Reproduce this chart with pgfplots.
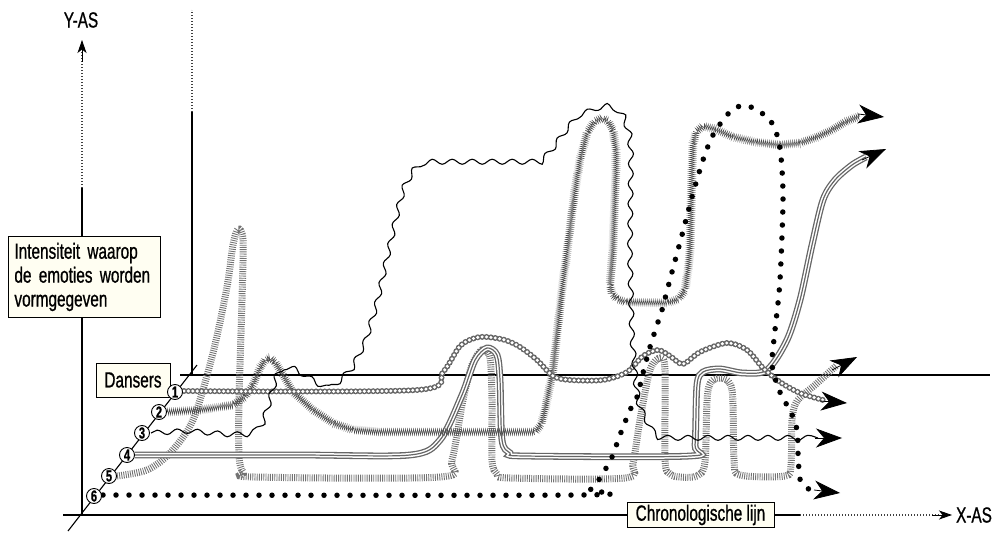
\documentclass[border=0pt]{standalone}
\usepackage{fontspec}
\setmainfont{Liberation Sans}[FakeStretch=0.7, FakeBold=0.8]
\usepackage{pgfplots}
\pgfplotsset{compat=1.18}
\usetikzlibrary{decorations.pathmorphing,arrows.meta}
\definecolor{boxfill}{RGB}{255,254,242}

\tikzset{
  bigarrow/.style={black, line width=0.8bp, -{Stealth[length=26bp,width=19bp,inset=8bp]}},
  smallarrow/.style={black, line width=0.8bp, -{Stealth[length=13bp,width=9bp,inset=3.5bp]}},
  axisline/.style={black, line width=1.1bp},
  dotline/.style={black!75, line width=1.1bp, dash pattern=on 1bp off 2bp},
  lbl/.style={font=\fontsize{22}{24}\selectfont},
}
\pgfplotsset{
  sheet/.style={width=996bp, height=533bp, scale only axis,
    xmin=0, xmax=996, ymin=0, ymax=533, y dir=reverse,
    hide axis, clip=false},
}

\begin{document}
\begin{tikzpicture}
\begin{axis}[sheet]
% frame of the drawing
\addplot[axisline] coordinates {(82,515) (82,188)};
\addplot[dotline] coordinates {(82,188) (82,52)};
\addplot[smallarrow] coordinates {(82,62) (82,40)};
\addplot[axisline] coordinates {(192,376) (192,112)};
\addplot[dotline] coordinates {(192,112) (192,10)};
\addplot[axisline] coordinates {(180,375) (990,375)};
\addplot[axisline] coordinates {(63,515) (800,515)};
\addplot[dotline] coordinates {(800,515) (940,515)};
\addplot[smallarrow] coordinates {(932,515) (952,515)};
\addplot[axisline] coordinates {(68,531) (197,365)};

% 5: railway
\addplot[smooth, tension=0.5, draw=black!55, line width=7bp, dash pattern=on 0.9bp off 1.3bp] coordinates {
(117,476) (147,470) (170,453) (193,420) (213,353) (227,287) (233,245) (238,229) (243,240) (242,300) (239,400) (239,455) (243,472) (255,477) (440,477) (452,460) (463,400) (472,365) (482,350) (490,358) (492,400) (492,460) (497,474) (510,478) (625,478) (633,463) (640,420) (650,370) (660,358) (665,370) (665,460) (670,474) (680,477) (697,476) (705,462) (708,390) (720,378) (732,390) (734,460) (740,475) (785,476) (791,465) (792,420) (797,401) (815,385) (836,366)
};
\addplot[bigarrow] coordinates {(832,370) (857,357)};

% 4: triple line
\addplot[smooth, tension=0.5, draw=white, line width=4.2bp,
  preaction={draw=black!60, line width=6.8bp},
  postaction={draw=black!60, line width=1.2bp}] coordinates {
(135,455) (300,455) (410,455) (440,440) (462,395) (475,360) (487,348) (497,355) (500,380) (502,440) (510,453) (525,456) (690,456) (695,445) (697,385) (703,372) (720,369) (743,373) (767,370) (787,340) (800,300) (812,245) (823,200) (835,180) (852,165) (866,157)
};
\addplot[bigarrow] coordinates {(862,160) (886,149)};
\end{axis}

\begin{axis}[sheet]
% 2: diagonal hatching
\addplot[sharp plot, draw=black!70, line width=0.5bp, decorate,
  decoration={zigzag, amplitude=3bp, segment length=2bp}] coordinates {
(167,412) (200,410) (233,405) (245,397) (253,385) (260,368) (265,360) (270,358) (275,362) (283,375) (293,392) (313,410) (333,423) (353,430) (380,432) (535,432) (541,425) (545,410) (549,390) (553,370) (562,290) (575,190) (580,160) (587,133) (594,122) (602,118) (608,121) (613,130) (616,150) (616,170) (613,250) (610,285) (612,294) (617,299) (625,302) (667,303) (679,299) (685,290) (688,270) (690,250) (692,170) (693,145) (696,132) (703,126) (715,129) (733,137) (755,142) (780,145) (800,143) (817,137) (832,130) (845,122) (860,116)
};
\addplot[bigarrow] coordinates {(858,114) (884,117)};

% 1: chain of small rings
\addplot[smooth, tension=0.5, draw=white, line width=3.4bp, line cap=round, dash pattern=on 0bp off 4.4bp,
  preaction={draw=black!60, line width=6bp, line cap=round, dash pattern=on 0bp off 4.4bp}] coordinates {
(184,391) (417,390) (443,372) (460,346) (475,338) (487,337) (505,340) (520,347) (537,360) (553,376) (570,380) (603,380) (627,372) (643,356) (658,350) (670,356) (683,364) (700,352) (727,343) (747,350) (763,368) (780,382) (800,393) (823,400)
};
\addplot[bigarrow] coordinates {(820,401) (847,403)};
\end{axis}

\begin{axis}[sheet]
% 3: wavy
\addplot[sharp plot, draw=black, line width=1.1bp, decorate,
  decoration={snake, amplitude=2.5bp, segment length=20bp}] coordinates {
(151,433) (185,431) (220,434) (240,434) (250,430) (257,422) (264,400) (270,378) (276,370) (283,368) (290,369) (297,373) (313,383) (323,387) (333,380) (347,366) (360,340) (372,300) (382,255) (393,207) (400,182) (407,170) (417,162) (430,160) (470,160) (537,160) (550,145) (563,127) (577,110) (590,105) (600,103) (612,107) (620,115) (625,130) (627,157) (626,250) (628,330) (632,380) (635,400) (640,413) (648,428) (657,437) (670,438) (700,438) (818,438)
};
\addplot[bigarrow] coordinates {(815,438) (842,438)};
\end{axis}

\begin{axis}[sheet]
% 6: large dots
\addplot[smooth, tension=0.5, draw=black, line width=5.5bp, line cap=round, dash pattern=on 0bp off 13bp] coordinates {
(103,495) (580,495) (590,490) (598,481) (605,470) (612,457) (620,435) (630,410) (637,397) (643,373) (650,347) (658,322) (662,310) (672,272) (682,235) (692,197) (703,160) (713,135) (727,115) (737,107) (748,106) (760,112) (770,120) (777,135) (781,157) (783,200) (780,280) (775,330) (772,360) (774,375) (782,397) (790,410) (797,430) (798,453) (799,470) (801,482) (810,490)
};
\addplot[bigarrow] coordinates {(814,490) (840,493)};

% numbered dancers
\addplot[only marks, mark=*, mark size=7.5bp,
  mark options={fill=white, draw=black, line width=0.9bp},
  point meta=explicit symbolic, nodes near coords,
  every node near coord/.append style={anchor=center, font=\fontsize{16}{16}\selectfont\bfseries, inner sep=0pt}]
  coordinates {(175,392)[1] (159,412)[2] (142,433)[3] (127,455)[4] (109,476)[5] (94,496)[6]};

% labels
\node[draw, line width=0.9bp, fill=boxfill, anchor=north west, minimum width=152bp, minimum height=81bp,
  text width=140bp, align=left, inner xsep=6bp, lbl] at (axis cs:8,236)
  {Intensiteit waarop\\de emoties worden\\vormgegeven};
\node[draw, line width=0.9bp, fill=boxfill, minimum width=74bp, minimum height=34bp, inner sep=0pt, lbl]
  at (axis cs:133,380) {Dansers};
\node[draw, line width=0.9bp, fill=boxfill, minimum width=147bp, minimum height=25bp, inner sep=0pt, lbl]
  at (axis cs:700.5,515) {Chronologische lijn};
\node[lbl, inner sep=0pt] at (axis cs:81,20) {Y-AS};
\node[lbl, inner sep=0pt] at (axis cs:974,515) {X-AS};
\coordinate (pageTL) at (axis cs:0,0);
\coordinate (pageBR) at (axis cs:996,533);
\end{axis}
\pgfresetboundingbox
\path[use as bounding box] (pageTL) rectangle (pageBR);
\end{tikzpicture}
\end{document}
